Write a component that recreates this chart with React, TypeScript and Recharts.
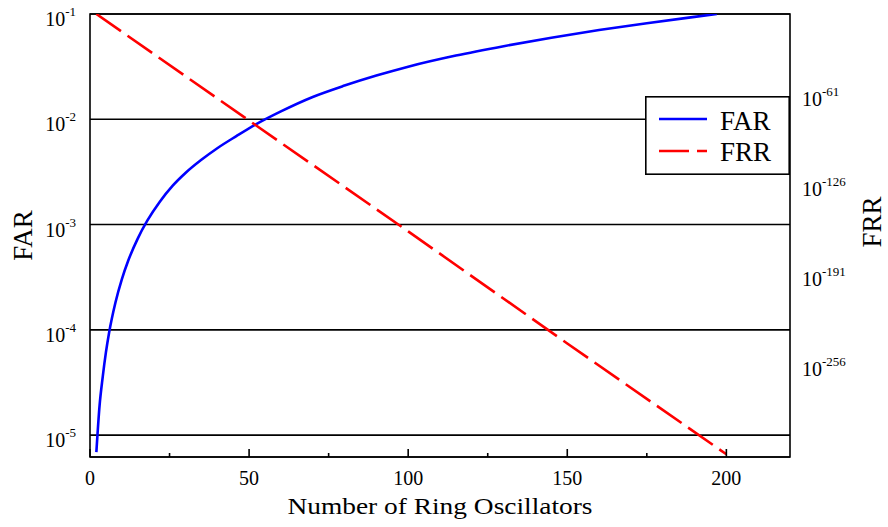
import React from "react";
import {
  LineChart,
  Line,
  XAxis,
  YAxis,
  CartesianGrid,
  ReferenceArea,
  Legend,
  Label,
} from "recharts";

const FONT = "'Liberation Serif', 'Times New Roman', serif";

const farRingOscillators = [
  2, 3, 4, 5, 6, 8, 10, 12, 15, 18, 22, 26, 30, 35, 40, 46, 52, 60, 70, 80, 90, 100, 115, 130, 145, 160, 175, 190, 197,
];
const farValues = [
  6.9e-6, 1.9e-5, 3.58e-5, 6.11e-5, 9.4e-5, 1.82e-4, 3.02e-4, 4.53e-4, 7.36e-4, 1.088e-3, 1.658e-3, 2.342e-3,
  3.09e-3, 4.12e-3, 5.31e-3, 6.92e-3, 8.91e-3, 1.189e-2, 1.63e-2, 2.089e-2, 2.6e-2, 3.16e-2, 4.03e-2, 4.95e-2,
  5.96e-2, 7.04e-2, 8.18e-2, 9.39e-2, 0.1,
];

const frrRingOscillators = [2, 50, 100, 150, 200];
const frrLog10 = [0, -77, -157, -238, -318];

const xTicks = [0, 25, 50, 75, 100, 125, 150, 175, 200];
const farTicks = [1e-5, 1e-4, 1e-3, 1e-2, 1e-1];
const frrTicks = [-61, -126, -191, -256];

const series = [
  { key: "far", name: "FAR", color: "#0000ff", dash: undefined as string | undefined },
  { key: "frr", name: "FRR", color: "#ff0000", dash: "30 8" },
];

// merge both series on N
const rowsByN = new Map<number, { n: number; far?: number; frr?: number }>();
farRingOscillators.forEach((n, i) => rowsByN.set(n, { ...(rowsByN.get(n) || { n }), far: farValues[i] }));
frrRingOscillators.forEach((n, i) => rowsByN.set(n, { ...(rowsByN.get(n) || { n }), frr: frrLog10[i] }));
const data = Array.from(rowsByN.values()).sort((a, b) => a.n - b.n);

const FAR_MIN = 6.2e-6;
const FAR_MAX = 0.1;

const NTick = ({ x, y, payload }: any) => {
  const major = payload.value % 50 === 0;
  return (
    <g>
      <line x1={x} x2={x} y1={y} y2={y - (major ? 8 : 4)} stroke="#000" strokeWidth={1.6} />
      {major && (
        <text x={x} y={y + 28} textAnchor="middle" fontSize={20} fontFamily={FONT} fill="#000">
          {payload.value}
        </text>
      )}
    </g>
  );
};

const FarTick = ({ x, y, payload }: any) => {
  const exp = Math.round(Math.log10(payload.value));
  return (
    <text x={x - 14} y={y + 12} textAnchor="end" fontFamily={FONT} fill="#000">
      <tspan fontSize={20}>10</tspan>
      <tspan fontSize={13} dy={-10}>{exp}</tspan>
    </text>
  );
};

const FrrTick = ({ x, y, payload }: any) => (
  <text x={x + 12} y={y + 8} textAnchor="start" fontFamily={FONT} fill="#000">
    <tspan fontSize={20}>10</tspan>
    <tspan fontSize={13} dy={-10}>{payload.value}</tspan>
  </text>
);

const LegendBox = () => (
  <svg width={145} height={79} style={{ display: "block" }}>
    <rect x={0.8} y={0.8} width={143.4} height={77.4} fill="#fff" stroke="#000" strokeWidth={1.6} />
    {series.map((s, i) => (
      <g key={s.key}>
        <line x1={14} x2={62} y1={23 + i * 32} y2={23 + i * 32} stroke={s.color} strokeWidth={2.6} strokeDasharray={s.dash} />
        <text x={75} y={34 + i * 31} fontSize={27} fontFamily={FONT} fill="#000">
          {s.name}
        </text>
      </g>
    ))}
  </svg>
);

export default function App() {
  return (
    <div style={{ width: 888, height: 527 }}>
      <style>{`body{margin:0;background:#fff}`}</style>
      <LineChart width={888} height={527} data={data} margin={{ top: 14, right: 0, bottom: 0, left: 0 }}>
        <CartesianGrid vertical={false} stroke="#000" strokeWidth={1.6} yAxisId="far" />
        <XAxis
          dataKey="n"
          type="number"
          domain={[0, 220]}
          ticks={xTicks}
          interval={0}
          height={70}
          tickSize={0}
          tickMargin={0}
          axisLine={false}
          tickLine={false}
          tick={<NTick />}
        >
          <Label
            content={({ viewBox }: any) => (
              <text
                x={viewBox.x + viewBox.width / 2}
                y={viewBox.y + 57}
                textAnchor="middle"
                fontSize={24}
                fontFamily={FONT}
                textLength={305}
                lengthAdjust="spacingAndGlyphs"
                fill="#000"
              >
                Number of Ring Oscillators
              </text>
            )}
          />
        </XAxis>
        <YAxis
          yAxisId="far"
          orientation="left"
          scale="log"
          type="number"
          domain={[FAR_MIN, FAR_MAX]}
          ticks={farTicks}
          interval={0}
          allowDataOverflow
          width={90}
          tickSize={0}
          tickMargin={0}
          axisLine={false}
          tickLine={false}
          tick={<FarTick />}
        >
          <Label
            content={({ viewBox }: any) => {
              const cx = 31.5;
              const cy = viewBox.y + viewBox.height / 2;
              return (
                <text x={cx} y={cy} transform={`rotate(-90 ${cx} ${cy})`} textAnchor="middle" fontSize={27} fontFamily={FONT} fill="#000">
                  FAR
                </text>
              );
            }}
          />
        </YAxis>
        <YAxis
          yAxisId="frr"
          orientation="right"
          type="number"
          domain={[-320, 0]}
          ticks={frrTicks}
          interval={0}
          allowDataOverflow
          width={98}
          tickSize={0}
          tickMargin={0}
          axisLine={false}
          tickLine={false}
          tick={<FrrTick />}
        >
          <Label
            content={({ viewBox }: any) => {
              const cx = viewBox.x + 91;
              const cy = viewBox.y + 208;
              return (
                <text x={cx} y={cy} transform={`rotate(-90 ${cx} ${cy})`} textAnchor="middle" fontSize={27} fontFamily={FONT} fill="#000">
                  FRR
                </text>
              );
            }}
          />
        </YAxis>
        <ReferenceArea yAxisId="far" x1={0} x2={220} y1={FAR_MIN} y2={FAR_MAX} fill="none" stroke="#000" strokeWidth={1.6} />
        <Line
          yAxisId="far"
          dataKey="far"
          name="FAR"
          type="monotone"
          stroke={series[0].color}
          strokeWidth={2.6}
          dot={false}
          activeDot={false}
          connectNulls
          isAnimationActive={false}
        />
        <Line
          yAxisId="frr"
          dataKey="frr"
          name="FRR"
          type="linear"
          stroke={series[1].color}
          strokeWidth={2.6}
          strokeDasharray={series[1].dash}
          dot={false}
          activeDot={false}
          connectNulls
          isAnimationActive={false}
        />
        <Legend
          layout="vertical"
          align="center"
          verticalAlign="middle"
          wrapperStyle={{ left: 645, top: 96, width: 145, height: 79 }}
          content={() => <LegendBox />}
        />
      </LineChart>
    </div>
  );
}
